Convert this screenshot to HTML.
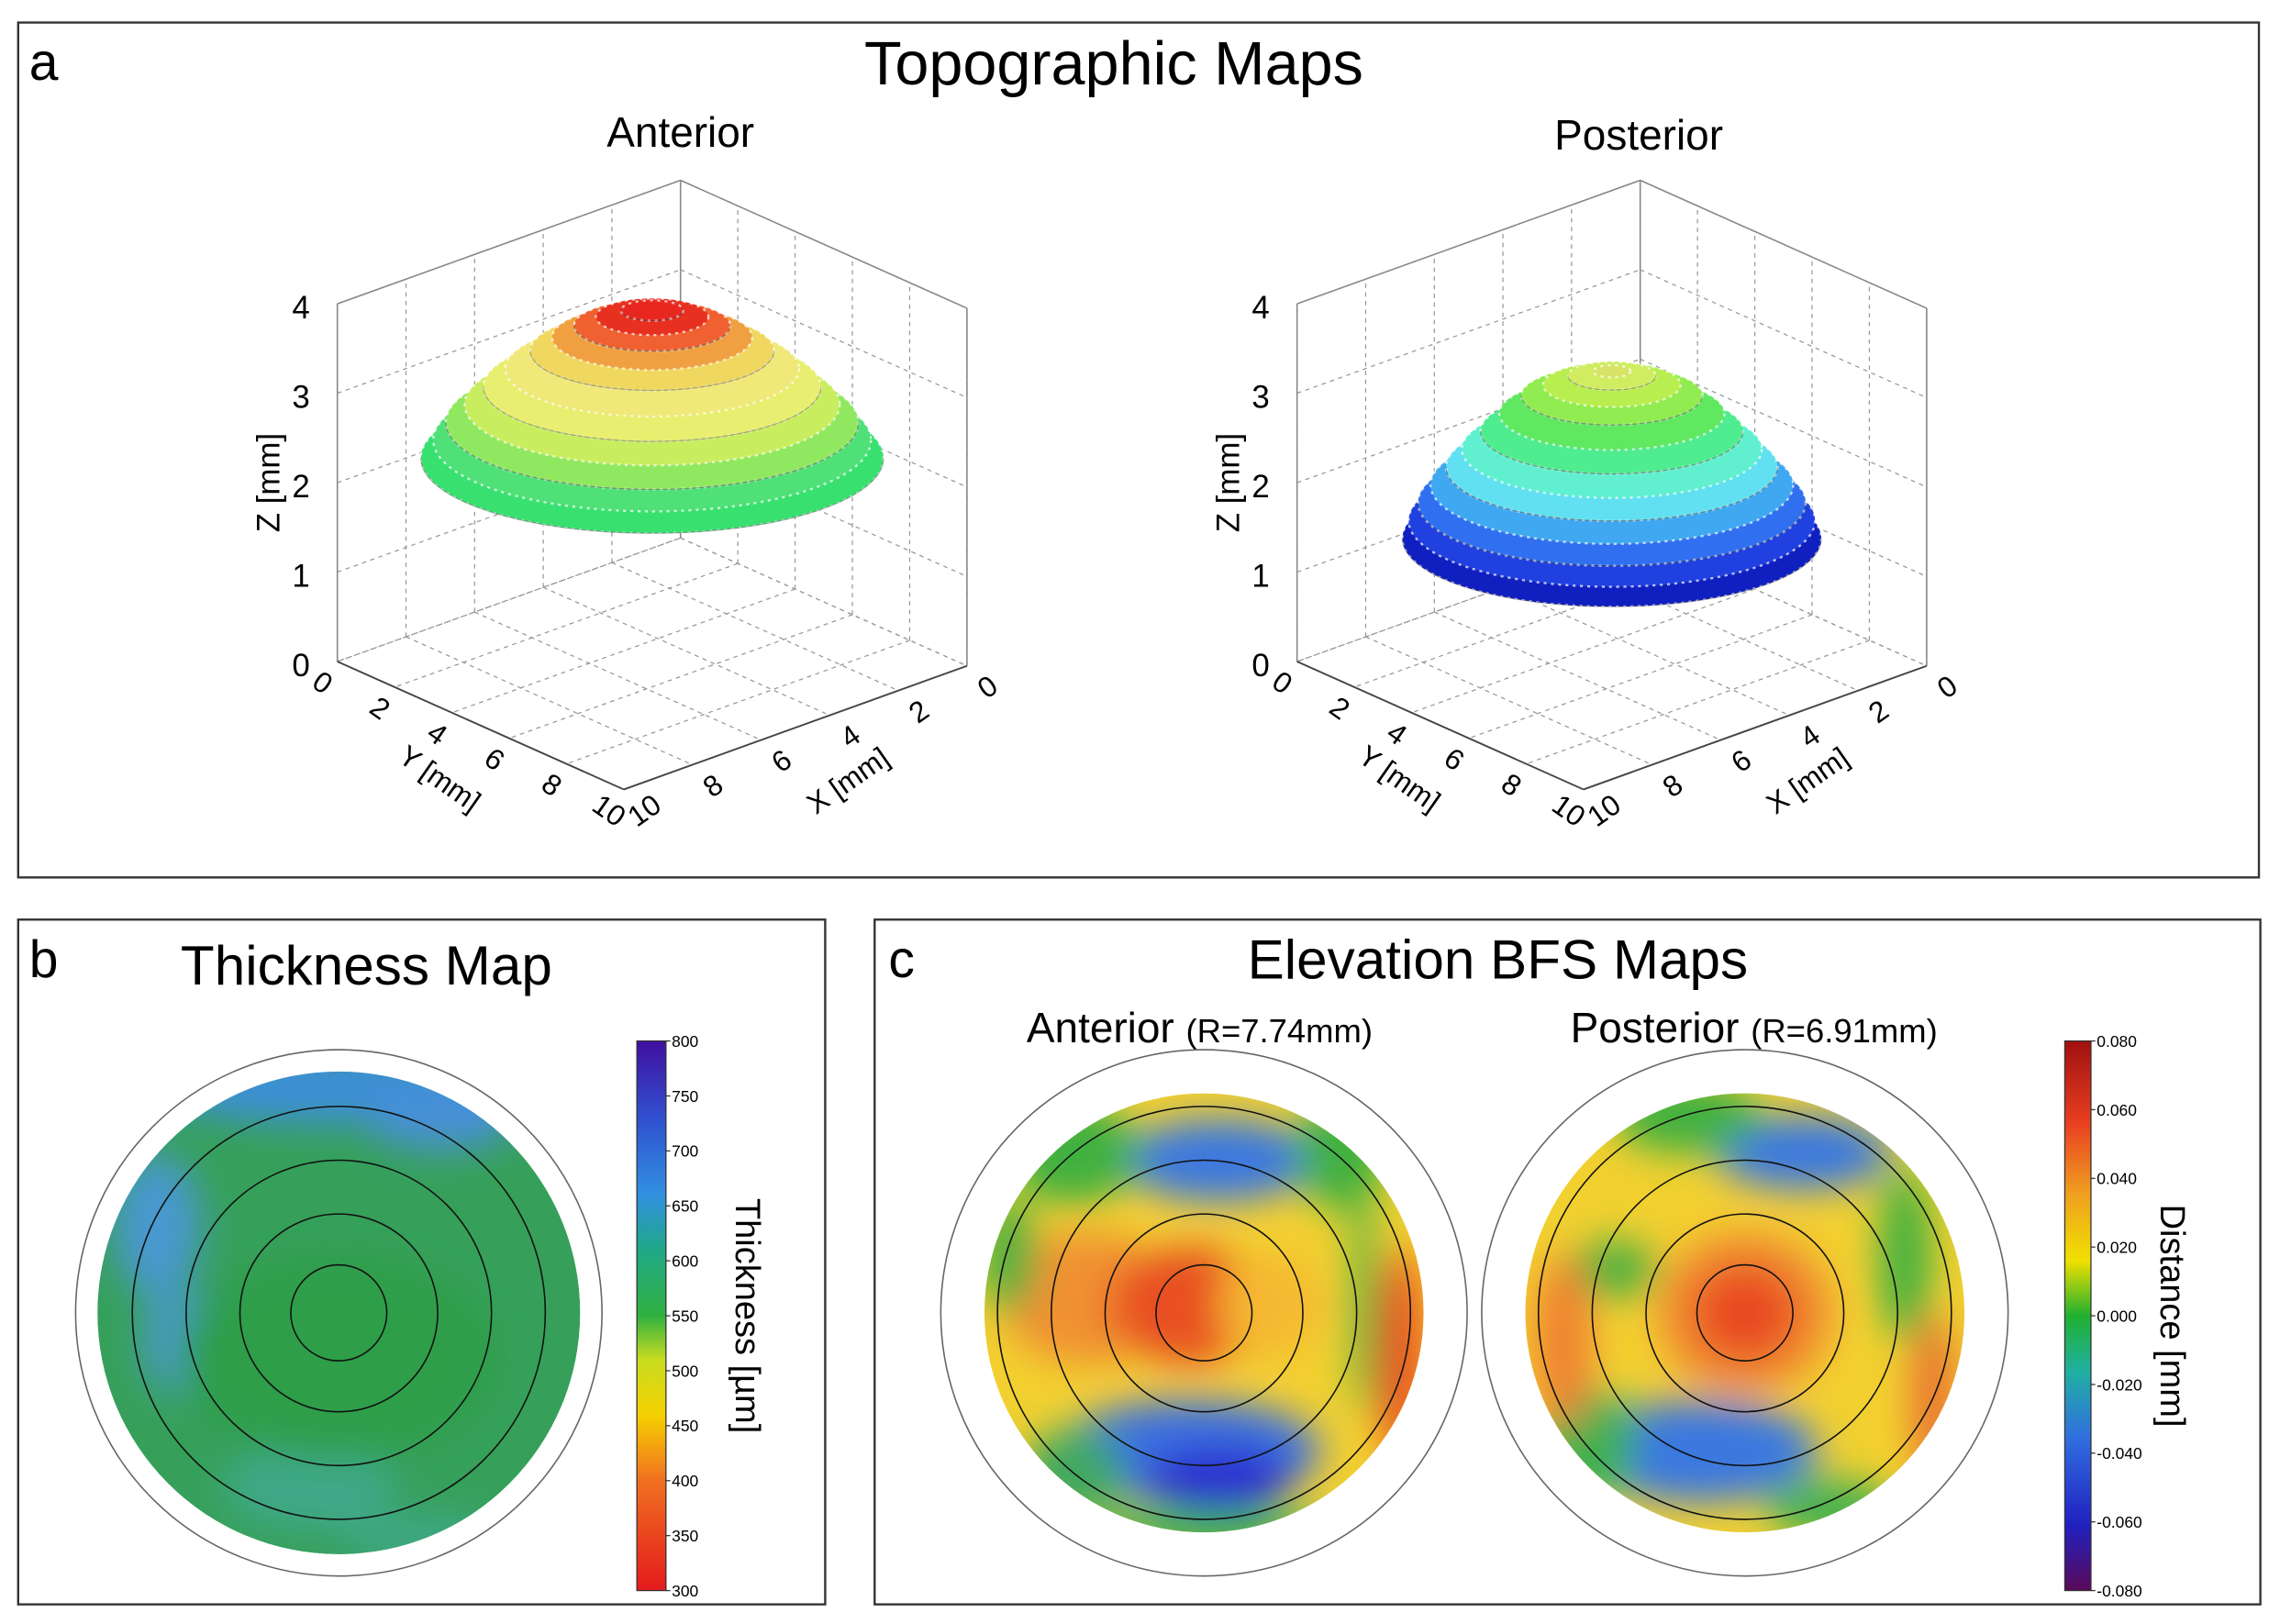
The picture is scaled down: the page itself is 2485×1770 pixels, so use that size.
<!DOCTYPE html>
<html><head><meta charset="utf-8"><style>
html,body{margin:0;padding:0;background:#fff}
svg{display:block;font-family:"Liberation Sans",sans-serif}
</style></head><body>
<svg id="fig" width="2485" height="1770" viewBox="0 0 1568 1117" preserveAspectRatio="none" xmlns="http://www.w3.org/2000/svg">
<defs>
<filter id="blur" x="-50%" y="-50%" width="200%" height="200%"><feGaussianBlur stdDeviation="13"/></filter>
<clipPath id="cb"><circle cx="233" cy="903" r="166"/></clipPath>
<clipPath id="cc1"><circle cx="828" cy="903" r="151"/></clipPath>
<clipPath id="cc2"><circle cx="1200" cy="903" r="151"/></clipPath>
<linearGradient id="gThick" x1="0" y1="1" x2="0" y2="0">
<stop offset="0" stop-color="#e41a1c"/><stop offset="0.2" stop-color="#f07020"/><stop offset="0.32" stop-color="#f5d000"/><stop offset="0.42" stop-color="#c8dc20"/><stop offset="0.5" stop-color="#30b040"/><stop offset="0.62" stop-color="#20a888"/><stop offset="0.72" stop-color="#3090e0"/><stop offset="0.86" stop-color="#3050d0"/><stop offset="1" stop-color="#4010a0"/></linearGradient>
<linearGradient id="gDist" x1="0" y1="1" x2="0" y2="0">
<stop offset="0" stop-color="#5a0a5a"/><stop offset="0.12" stop-color="#2020c0"/><stop offset="0.28" stop-color="#3070e0"/><stop offset="0.4" stop-color="#20b0a0"/><stop offset="0.5" stop-color="#20b030"/><stop offset="0.6" stop-color="#f0e000"/><stop offset="0.72" stop-color="#f0a020"/><stop offset="0.85" stop-color="#e84020"/><stop offset="1" stop-color="#a01010"/></linearGradient>
</defs>

<rect x="12.5" y="15.5" width="1541" height="588" fill="none" stroke="#333" stroke-width="1.5"/>
<rect x="12.5" y="632.5" width="555" height="471" fill="none" stroke="#333" stroke-width="1.5"/>
<rect x="601.5" y="632.5" width="953" height="471" fill="none" stroke="#333" stroke-width="1.5"/>

<text x="20" y="55" font-size="36">a</text>
<text x="766" y="58" font-size="42" text-anchor="middle">Topographic Maps</text>
<text x="468" y="101" font-size="29" text-anchor="middle">Anterior</text>
<text x="1127" y="103" font-size="29" text-anchor="middle">Posterior</text>

<text x="20" y="672" font-size="36">b</text>
<text x="252" y="677" font-size="38" text-anchor="middle">Thickness Map</text>
<text x="611" y="672" font-size="36">c</text>
<text x="1030" y="673" font-size="38" text-anchor="middle">Elevation BFS Maps</text>
<text x="706" y="717" font-size="29">Anterior <tspan font-size="23">(R=7.74mm)</tspan></text>
<text x="1080" y="717" font-size="29">Posterior <tspan font-size="23">(R=6.91mm)</tspan></text>

<g id="plots3d"></g>
<g id="maps"></g>
<g id="bars"></g>

<script>
const NS="http://www.w3.org/2000/svg";
function mk(tag,attrs,parent){const e=document.createElementNS(NS,tag);for(const k in attrs)e.setAttribute(k,attrs[k]);parent.appendChild(e);return e;}

const axisTicks=[0,2,4,6,8,10];
const zTicks=[0,1,2,3,4];
const anteriorZ=[2.3,2.5,2.7,2.9,3.1,3.3,3.5,3.65,3.78,3.88,3.95];
const anteriorR=[7.4,7.0,6.6,6.0,5.4,4.7,3.9,3.2,2.5,1.8,1.0];
const posteriorZ=[1.4,1.6,1.8,2.0,2.2,2.4,2.6,2.8,3.0,3.12,3.22,3.27];
const posteriorR=[6.7,6.5,6.2,5.8,5.3,4.8,4.2,3.6,2.9,2.2,1.4,0.6];
const anteriorCol=["#38e070","#50e078","#90e860","#c8ee60","#e8ee70","#f0e878","#f0d860","#f0a040","#f06030","#e83020","#e82820"];
const posteriorCol=["#1020c0","#2040e0","#3070f0","#40a8f0","#60e0f0","#60f0d0","#50ec90","#60e860","#90ec50","#b8ee50","#d0ec60","#d8e468"];

function makePlot(dx,zArr,rArr,cols,name){
  const g=mk("g",{},document.getElementById("plots3d"));
  
  
  const back=[468+dx,370], ex=[-23.6,8.5], ey=[19.7,8.8], zs=61.5;
  const P=(x,y,z)=>[back[0]+x*ex[0]+y*ey[0], back[1]+x*ex[1]+y*ey[1]-z*zs];
  const L=(a,b,st,w,dash)=>mk("line",{x1:a[0],y1:a[1],x2:b[0],y2:b[1],stroke:st,"stroke-width":w,"stroke-dasharray":dash||""},g);
  const gc="#999", gd="3,3";
  axisTicks.forEach(t=>{
    L(P(t,0,0),P(t,0,4),gc,0.8,gd); L(P(0,t,0),P(0,t,4),gc,0.8,gd);
    L(P(t,0,0),P(t,10,0),gc,0.8,gd); L(P(0,t,0),P(10,t,0),gc,0.8,gd);
  });
  zTicks.forEach(z=>{L(P(10,0,z),P(0,0,z),gc,0.8,gd);L(P(0,0,z),P(0,10,z),gc,0.8,gd);});
  const k="#888";
  L(P(0,0,0),P(0,0,4),k,1);L(P(10,0,0),P(10,0,4),k,1);L(P(0,10,0),P(0,10,4),k,1);
  L(P(10,0,4),P(0,0,4),k,1);L(P(0,0,4),P(0,10,4),k,1);
  L(P(10,0,0),P(10,10,0),"#444",1.2);L(P(10,10,0),P(0,10,0),"#444",1.2);
  zTicks.forEach(z=>{const p=P(10,0,z);const t=mk("text",{x:p[0]-25,y:p[1]+10,"font-size":22,"text-anchor":"middle"},g);t.textContent=z;});
  const zl=mk("text",{transform:`translate(${P(10,0,2)[0]-40},${P(10,0,2)[1]}) rotate(-90)`,"font-size":22,"text-anchor":"middle"},g);zl.textContent="Z [mm]";
  axisTicks.forEach(t=>{
    const p=P(10,t,0);const a=mk("text",{transform:`translate(${p[0]-14},${p[1]+20}) rotate(35)`,"font-size":20,"text-anchor":"middle"},g);a.textContent=t;
    const q=P(t,10,0);const b=mk("text",{transform:`translate(${q[0]+18},${q[1]+20}) rotate(-35)`,"font-size":20,"text-anchor":"middle"},g);b.textContent=t;
  });
  const yp=P(10,5,0);const yl=mk("text",{transform:`translate(${yp[0]-32},${yp[1]+42}) rotate(35)`,"font-size":20,"text-anchor":"middle"},g);yl.textContent="Y [mm]";
  const xp=P(5,10,0);const xl=mk("text",{transform:`translate(${xp[0]+40},${xp[1]+42}) rotate(-35)`,"font-size":20,"text-anchor":"middle"},g);xl.textContent="X [mm]";
  zArr.forEach((z,i)=>{
    const c=P(5,5,z), r=rArr[i];
    const e=mk("ellipse",{cx:c[0],cy:c[1],rx:r*21.5,ry:r*7,fill:cols[i],stroke:"#ffffff","stroke-opacity":0.7,"stroke-width":1.5,"stroke-dasharray":"2,3"},g);
    
    
  });
  zArr.forEach((z,i)=>{if(i%2)return;const c=P(5,5,z),r=rArr[i];
    mk("path",{d:`M${c[0]-r*21.5},${c[1]} A${r*21.5},${r*7} 0 0 0 ${c[0]+r*21.5},${c[1]}`,fill:"none",stroke:"#333","stroke-opacity":0.35,"stroke-width":0.8},g);});
}
makePlot(0,anteriorZ,anteriorR,anteriorCol,"anterior-3d-plot");
makePlot(660,posteriorZ,posteriorR,posteriorCol,"posterior-3d-plot");

const ringRadii=[33,68,105,142];
const thickBlobs=[[0,-155,130,25,"#3d8fd8"],[70,-130,50,18,"#4a90d8"],[-125,-60,30,50,"#4a98d0"],[-110,20,25,35,"#4a9ac8"],[-20,120,60,30,"#40a888"],[60,155,60,15,"#40a888"],[0,30,110,70,"#2e9e48"]];
const antBlobs=[[-80,-10,60,45,"#f09030"],[-10,-5,55,40,"#e85020"],[45,-5,35,35,"#f5b830"],[10,-105,65,28,"#3a78e0"],[-90,-110,45,35,"#40b040"],[95,-110,30,40,"#40b040"],[-10,95,90,35,"#3a70e0"],[10,115,50,22,"#2a2ad0"],[-90,110,35,30,"#40a860"],[0,150,90,15,"#40b040"],[-135,-40,20,40,"#50b040"],[135,30,16,75,"#e84a20"],[110,-10,10,80,"#60b840"]];
const postBlobs=[[0,0,60,55,"#f08a30"],[0,0,35,32,"#e84a20"],[-90,-30,30,20,"#50b040"],[40,-110,60,25,"#3a78e0"],[-40,-135,50,25,"#40b040"],[-30,95,80,35,"#3a78e0"],[-110,90,35,40,"#40b050"],[60,135,45,20,"#40b050"],[110,-40,18,60,"#40b040"],[130,60,15,60,"#e87030"],[-125,20,20,60,"#f08030"]];

function makeMap(cx,cy,r,base,blobs,clip,name){
  const g=mk("g",{},document.getElementById("maps"));
  
  
  mk("circle",{cx:cx,cy:cy,r:181,fill:"#fff",stroke:"#666","stroke-width":1},g);
  const inner=mk("g",{"clip-path":`url(#${clip})`},g);
  mk("circle",{cx:cx,cy:cy,r:r,fill:base},inner);
  const bg=mk("g",{filter:"url(#blur)"},inner);
  blobs.forEach(b=>mk("ellipse",{cx:cx+b[0],cy:cy+b[1],rx:b[2],ry:b[3],fill:b[4]},bg));
  ringRadii.forEach(rr=>{const c=mk("circle",{cx:cx,cy:cy,r:rr,fill:"none",stroke:"#111","stroke-width":1},g);
    
    });
}
makeMap(233,903,166,"#36a05a",thickBlobs,"cb","thickness-map");
makeMap(828,903,151,"#f2d030",antBlobs,"cc1","anterior-elevation-map");
makeMap(1200,903,151,"#f2d030",postBlobs,"cc2","posterior-elevation-map");

const thickTicks=["800","750","700","650","600","550","500","450","400","350","300"];
const distTicks=["0.080","0.060","0.040","0.020","0.000","-0.020","-0.040","-0.060","-0.080"];
function makeBar(x,y0,y1,w,grad,ticks,label,name){
  const g=mk("g",{},document.getElementById("bars"));
  
  
  mk("rect",{x:x,y:y0,width:w,height:y1-y0,fill:`url(#${grad})`,stroke:"#333","stroke-width":0.8},g);
  ticks.forEach((t,i)=>{const y=y0+(y1-y0)*i/(ticks.length-1);
    mk("line",{x1:x+w,y1:y,x2:x+w+3,y2:y,stroke:"#333","stroke-width":0.8},g);
    const tx=mk("text",{x:x+w+4,y:y+4,"font-size":11},g);tx.textContent=t;});
  const lb=mk("text",{transform:`translate(${x+w+48},${(y0+y1)/2}) rotate(90)`,"font-size":24,"text-anchor":"middle"},g);lb.textContent=label;
}
makeBar(438,716,1094,20,"gThick",thickTicks,"Thickness [µm]","thickness-colorbar");
makeBar(1420,716,1094,18,"gDist",distTicks,"Distance [mm]","distance-colorbar");
</script>
</svg>
</body></html>
